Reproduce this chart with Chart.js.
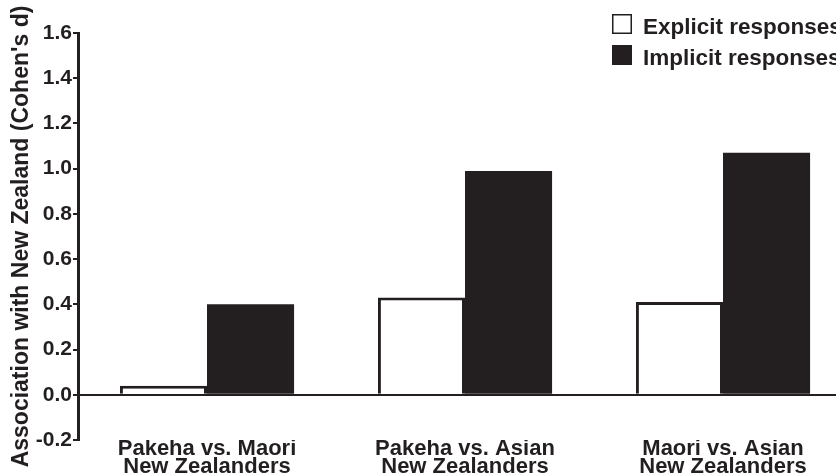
<!DOCTYPE html>
<html>
<head>
<meta charset="utf-8">
<script src="https://cdn.jsdelivr.net/npm/chart.js@4/dist/chart.umd.min.js"></script>
<style>
  html, body { margin: 0; padding: 0; overflow: hidden; background: #fff; }
  #wrap { width: 852px; height: 474px; }
</style>
</head>
<body>
<div id="wrap"><canvas id="chart"></canvas></div>
<script>
// Data
const categories = [
  ["Pakeha vs. Maori", "New Zealanders"],
  ["Pakeha vs. Asian", "New Zealanders"],
  ["Maori vs. Asian", "New Zealanders"]
];
const seriesNames = ["Explicit responses", "Implicit responses"];
const explicitValues = [0.04, 0.43, 0.41];
const implicitValues = [0.40, 0.99, 1.07];
const yMin = -0.2;
const yMax = 1.6;
const yStep = 0.2;

const ink = "#231f20";
const fontFamily = "'Liberation Sans', Arial, Helvetica, sans-serif";

// legend drawn inside the plot, top right
const cornerLegend = {
  id: "cornerLegend",
  afterDraw(chart) {
    const ctx = chart.ctx;
    const x = 612, y0 = 14, size = 20, gap = 31;
    ctx.save();
    ctx.font = "bold 22.5px " + fontFamily;
    ctx.textBaseline = "alphabetic";
    chart.data.datasets.forEach((ds, i) => {
      const y = y0 + i * gap;
      ctx.fillStyle = ds.backgroundColor;
      ctx.fillRect(x, y, size, size);
      if (ds.borderWidth) {
        ctx.strokeStyle = ds.borderColor;
        ctx.lineWidth = 1.5;
        ctx.strokeRect(x + 0.75, y + 0.75, size - 1.5, size - 1.5);
      }
      ctx.fillStyle = ink;
      ctx.fillText(ds.label, x + 31, y + size);
    });
    ctx.restore();
  }
};

new Chart(document.getElementById("chart"), {
  type: "bar",
  data: {
    labels: categories,
    datasets: [
      {
        label: seriesNames[0],
        data: explicitValues,
        backgroundColor: "#ffffff",
        borderColor: ink,
        borderWidth: 3,
        barPercentage: 1,
        categoryPercentage: 0.675
      },
      {
        label: seriesNames[1],
        data: implicitValues,
        backgroundColor: ink,
        borderWidth: 0,
        barPercentage: 1,
        categoryPercentage: 0.675
      }
    ]
  },
  options: {
    responsive: true,
    maintainAspectRatio: false,
    animation: false,
    layout: { padding: { top: 33, right: 0, left: 0, bottom: 0 } },
    plugins: {
      legend: { display: false },
      tooltip: { enabled: false }
    },
    scales: {
      x: {
        grid: { display: false },
        border: { display: false },
        ticks: {
          color: ink,
          padding: -9,
          maxRotation: 0,
          font: { family: fontFamily, size: 22, weight: "bold", lineHeight: 0.86 }
        },
        afterFit(scale) { scale.height = 34; }
      },
      y: {
        min: yMin,
        max: yMax,
        ticks: {
          stepSize: yStep,
          color: ink,
          padding: 1,
          font: { family: fontFamily, size: 21, weight: "bold" },
          callback: v => v.toFixed(1)
        },
        grid: {
          drawOnChartArea: true,
          color: ctx => (ctx.tick && Math.abs(ctx.tick.value) < 1e-9) ? ink : "rgba(0,0,0,0)",
          lineWidth: 2,
          tickColor: ink,
          tickLength: 5,
          tickWidth: 2
        },
        border: { display: true, color: ink, width: 3 },
        title: {
          display: true,
          text: "Association with New Zealand (Cohen's d)",
          color: ink,
          padding: { top: 8, bottom: 0 },
          font: { family: fontFamily, size: 23, weight: "bold" }
        },
        afterFit(scale) { scale.width = 78; }
      }
    }
  },
  plugins: [cornerLegend]
});
</script>
</body>
</html>
